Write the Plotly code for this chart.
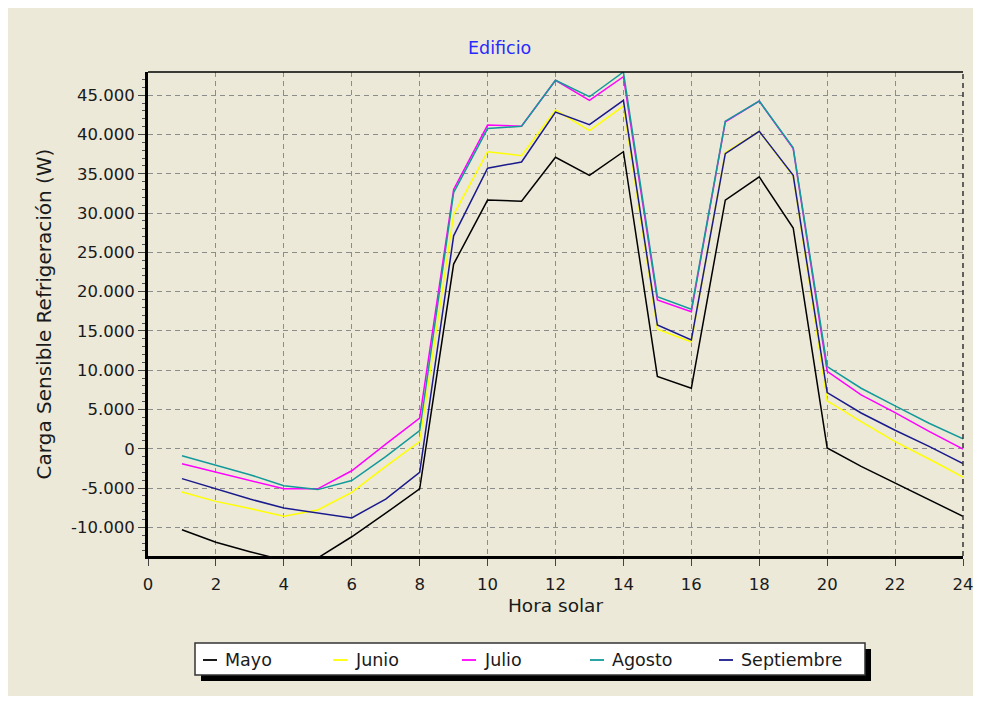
import plotly.graph_objects as go

# ---------------- data ----------------
hours = list(range(1, 25))

series_names = ["Mayo", "Junio", "Julio", "Agosto", "Septiembre"]
series_colors = ["#000000", "#ffff00", "#ff00ff", "#129a9a", "#1a1a8c"]

mayo = [-10300, -11900, -13100, -14200, -13900, -11200, -8200, -5100,
        23500, 31650, 31500, 37100, 34800, 37800, 9200, 7700,
        31650, 34600, 28100, 100, -2250, -4350, -6450, -8600]
junio = [-5500, -6700, -7600, -8600, -7800, -5550, -2250, 900,
         29800, 37800, 37300, 43100, 40500, 43600, 15200, 13600,
         37700, 40400, 34700, 6100, 3450, 900, -1300, -3600]
julio = [-1900, -2970, -3950, -5100, -5100, -2800, 600, 3900,
         33000, 41200, 41050, 46900, 44350, 47350, 18950, 17450,
         41600, 44250, 38200, 9850, 6850, 4600, 2200, -50]
agosto = [-900, -2100, -3300, -4700, -5200, -4050, -1000, 2300,
          32600, 40750, 41050, 46900, 44800, 47950, 19350, 17750,
          41700, 44250, 38300, 10450, 7700, 5450, 3250, 1250]
septiembre = [-3800, -5100, -6400, -7550, -8200, -8800, -6400, -3000,
              27100, 35700, 36500, 42850, 41250, 44350, 15750, 13850,
              37550, 40400, 34800, 7150, 4550, 2350, 300, -1900]

series_values = [mayo, junio, julio, agosto, septiembre]

x_tickvals = [0, 2, 4, 6, 8, 10, 12, 14, 16, 18, 20, 22, 24]
y_tickvals = [-10000, -5000, 0, 5000, 10000, 15000, 20000, 25000,
              30000, 35000, 40000, 45000]
y_ticktext = ["-10.000", "-5.000", "0", "5.000", "10.000", "15.000", "20.000",
              "25.000", "30.000", "35.000", "40.000", "45.000"]

title_text = "Edificio"
x_title = "Hora solar"
y_title = "Carga Sensible Refrigeración (W)"

# ---------------- layout geometry ----------------
# The page body adds an 8px margin, so figure coordinates = page coordinates - 8
OFF = 8
W, H = 965, 688
L, R, T, B = 148 - OFF, 963 - OFF, 72 - OFF, 556 - OFF
FONT = "DejaVu Sans"
BG = "#ece9d8"
TXT = "#1a1a1a"


def px(xp):
    """page x -> paper fraction"""
    return (xp - OFF - L) / (R - L)


def py(yp):
    """page y -> paper fraction"""
    return (B - (yp - OFF)) / (B - T)


fig = go.Figure()
for name, color, vals in zip(series_names, series_colors, series_values):
    fig.add_trace(go.Scatter(x=hours, y=vals, mode="lines", name=name,
                             line=dict(color=color, width=1.5),
                             showlegend=False))

shapes = []
# top border
shapes.append(dict(type="line", xref="paper", yref="paper",
                   x0=0, x1=1, y0=1, y1=1, line=dict(color="black", width=1.5)))
# right border (dashed)
shapes.append(dict(type="line", xref="paper", yref="paper",
                   x0=1, x1=1, y0=0, y1=1,
                   line=dict(color="#333333", width=1.5, dash="5px,4px")))

# legend box (manual)
lg_x0, lg_x1, lg_y0, lg_y1 = 195, 865, 643, 675
shapes.append(dict(type="rect", xref="paper", yref="paper",
                   x0=px(lg_x0 + 6), x1=px(lg_x1 + 6), y0=py(lg_y1 + 6), y1=py(lg_y0 + 6),
                   fillcolor="black", line=dict(width=0)))
shapes.append(dict(type="rect", xref="paper", yref="paper",
                   x0=px(lg_x0), x1=px(lg_x1), y0=py(lg_y1), y1=py(lg_y0),
                   fillcolor="white", line=dict(color="#333333", width=1.5)))

annotations = []
item_x = [203, 333, 462, 590, 719]
item_y = 660
for name, color, x0 in zip(series_names, series_colors, item_x):
    shapes.append(dict(type="line", xref="paper", yref="paper",
                       x0=px(x0), x1=px(x0 + 14), y0=py(item_y), y1=py(item_y),
                       line=dict(color=color, width=1.8)))
    annotations.append(dict(xref="paper", yref="paper", x=px(x0 + 20), y=py(item_y),
                            text=name, showarrow=False, xanchor="left", yanchor="middle",
                            font=dict(family=FONT, size=17.5, color=TXT)))

# title
annotations.append(dict(xref="paper", yref="paper", x=px(499), y=py(48),
                        text=title_text, showarrow=False, xanchor="center", yanchor="middle",
                        font=dict(family=FONT, size=17.5, color="#2a2aff")))

fig.update_layout(
    width=W, height=H,
    margin=dict(l=L, r=W - R, t=T, b=H - B, pad=0, autoexpand=False),
    paper_bgcolor=BG,
    plot_bgcolor=BG,
    shapes=shapes,
    annotations=annotations,
    showlegend=False,
    font=dict(family=FONT, size=17, color=TXT),
)

grid_style = dict(showgrid=True, gridcolor="#8c8c8c", gridwidth=1.2, griddash="5px,4px")

fig.update_xaxes(
    range=[0, 24], tickmode="array", tickvals=x_tickvals,
    ticks="outside", ticklen=7, tickwidth=1.2, tickcolor="#444",
    showline=True, linecolor="black", linewidth=3,
    zeroline=False, ticklabelstandoff=4, automargin=False,
    ticklabeloverflow="allow",
    tickfont=dict(family=FONT, size=16.5, color=TXT),
    title=dict(text=x_title, standoff=7, font=dict(family=FONT, size=18.5, color=TXT)),
    **grid_style,
)
fig.update_yaxes(
    range=[-13650, 47950], tickmode="array", tickvals=y_tickvals, ticktext=y_ticktext,
    ticks="outside", ticklen=7, tickwidth=1.2, tickcolor="#444",
    minor=dict(tickmode="linear", tick0=0, dtick=1000, ticks="outside", ticklen=3,
               tickcolor="#555", tickwidth=1, showgrid=False),
    showline=True, linecolor="black", linewidth=3,
    zeroline=False, automargin=False,
    tickfont=dict(family=FONT, size=16.5, color=TXT),
    title=dict(text=y_title, standoff=14, font=dict(family=FONT, size=20, color=TXT)),
    **grid_style,
)

fig.write_html("out.html")
